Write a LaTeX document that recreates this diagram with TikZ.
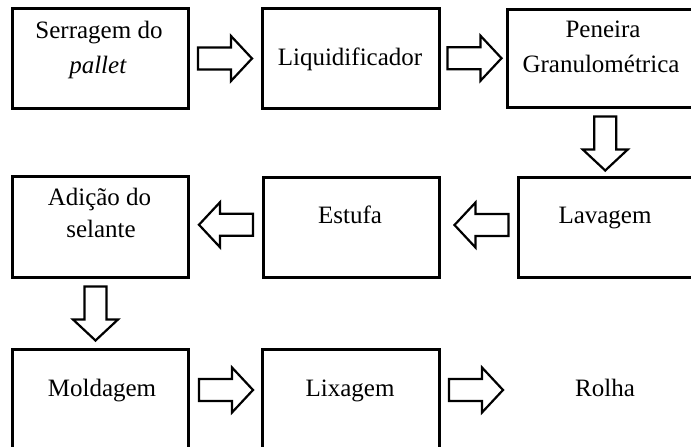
\documentclass[tikz,border=0pt]{standalone}
\usepackage{fontspec}
\setmainfont{Liberation Serif}
\usetikzlibrary{calc}
\tikzset{
  box/.style={draw, line width=3pt, fill=white, rectangle, inner sep=0pt},
  txt/.style={inner sep=0pt, anchor=base, font=\fontsize{25}{35}\selectfont},
  blk/.style={draw, line width=2.2pt, fill=white, line join=miter},
}
\newcommand{\blockarrow}[2]{%
  \draw[blk, shift={#1}, rotate=#2] (-27,-11) -- (6,-11) -- (6,-22.5) -- (27,0) -- (6,22.5) -- (6,11) -- (-27,11) -- cycle;}
\begin{document}
\begin{tikzpicture}[x=1pt,y=-1pt]
\useasboundingbox (0,0) rectangle (691,447);
\fill[white] (0,0) rectangle (691,447);
\clip (0,0) rectangle (691,447);
% boxes
\node[box, minimum width=176, minimum height=100] (b1) at (100,58.5) {};
\node[box, minimum width=177, minimum height=100] (b2) at (350.5,58.5) {};
\node[box, minimum width=193, minimum height=98] (b3) at (603.5,58) {};
\node[box, minimum width=182, minimum height=100] (b4) at (609,227) {};
\node[box, minimum width=176, minimum height=100] (b5) at (351,227) {};
\node[box, minimum width=176, minimum height=101] (b6) at (100,226.5) {};
\node[box, minimum width=176, minimum height=111] (b7) at (100,404.5) {};
\node[box, minimum width=177, minimum height=111] (b8) at (350.5,404.5) {};
% texts
\node[txt] (t1a) at (99,38) {Serragem do};
\node[txt] (t1b) at (98,73) {\textit{pallet}};
\node[txt] (t2) at (350,65) {Liquidificador};
\node[txt] (t3a) at (603,37) {Peneira};
\node[txt] (t3b) at (601,72) {Granulométrica};
\node[txt] (t4) at (605,223) {Lavagem};
\node[txt] (t5) at (350,223) {Estufa};
\node[txt] (t6a) at (99.5,205) {Adição do};
\node[txt] (t6b) at (101,237) {selante};
\node[txt] (t7) at (102,396) {Moldagem};
\node[txt] (t8) at (350,396) {Lixagem};
\node[txt] (t9) at (605,396) {Rolha};
% block arrows
\blockarrow{($(b1.east)!0.5!(b2.west)$)}{0}
\blockarrow{($(b2.east)!0.5!(b3.west)+(1.5,0)$)}{0}
\blockarrow{($(b3.south)!0.5!(b4.north)+(-1,1.5)$)}{-90}
\blockarrow{($(b4.west)!0.5!(b5.east)+(3,-2)$)}{180}
\blockarrow{($(b5.west)!0.5!(b6.east)+(0.5,-2)$)}{180}
\blockarrow{($(b6.south)!0.5!(b7.north)+(-4.5,0.5)$)}{-90}
\blockarrow{($(b7.east)!0.5!(b8.west)+(1,-14.5)$)}{0}
\blockarrow{($(b8.east)+(35.5,-14.5)$)}{0}
\end{tikzpicture}
\end{document}
